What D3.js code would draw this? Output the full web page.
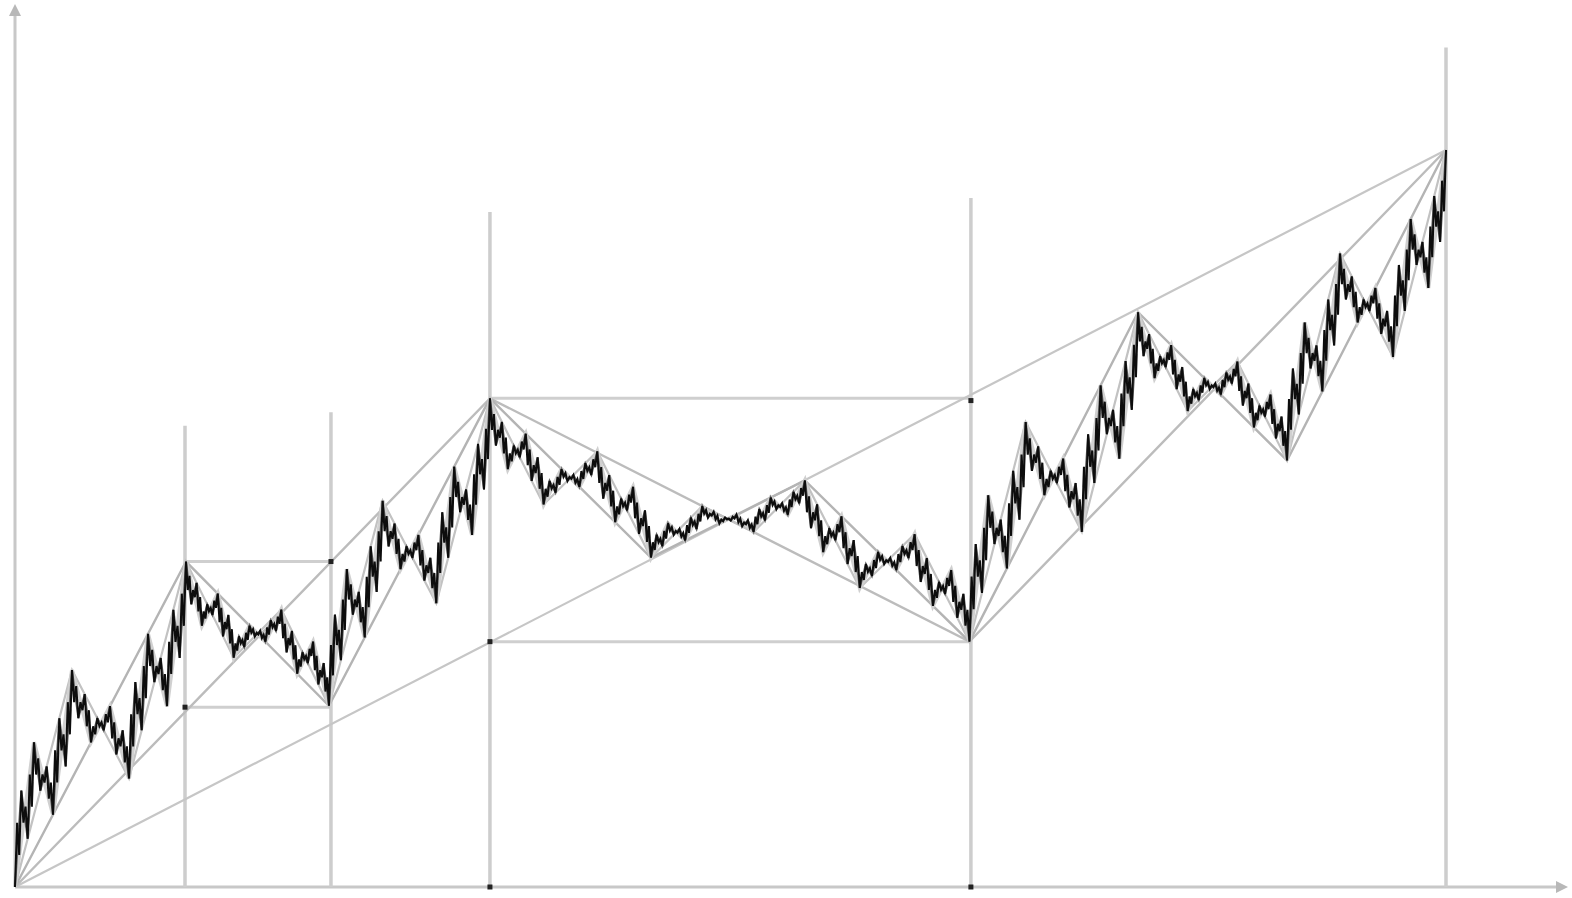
<!DOCTYPE html>
<html>
<head>
<meta charset="utf-8">
<script src="https://cdn.jsdelivr.net/npm/d3@7"></script>
<style>
  html, body { margin: 0; padding: 0; background: #ffffff; }
  svg { display: block; }
</style>
</head>
<body>
<svg id="chart" width="1572" height="898"></svg>
<script>
// ---- data (unit square: time 0..1, price 0..1) ----
// generator of the cartoon (each segment is replaced by 3 pieces)
const genX = [0, 1/3, 2/3, 1];
const genY = [0, 2/3, 1/3, 1];
// level 0: the trend line
const level0X = [0, 1];
const level0Y = [0, 1];
// level 1 breakpoints
const level1X = [0, 0.3319, 0.6670, 1];
const level1Y = [0, 0.6630, 0.3329, 1];
// level 2 breakpoints
const level2X = [0, 0.1195, 0.2194, 0.3319, 0.4444, 0.5520, 0.6670, 0.7848, 0.8889, 1];
const level2Y = [0, 0.4416, 0.2459, 0.6630, 0.4470, 0.5516, 0.3329, 0.7799, 0.5788, 1];
// vertical guide lines (position, top end)
const vertX   = [0.1188, 0.2208, 0.3319, 0.6680, 1];
const vertTop = [0.626, 0.644, 0.916, 0.935, 1.139];
// horizontal guide lines (box edges)
const horY  = [0.6630, 0.3329, 0.4416, 0.2440];
const horX0 = [0.3319, 0.3319, 0.1188, 0.1188];
const horX1 = [0.6680, 0.6680, 0.2208, 0.2208];
// marked points
const dotX = [0.1188, 0.2208, 0.3319, 0.6680, 0.3319, 0.6680];
const dotY = [0.2440, 0.4416, 0.3329, 0.6600, 0.0, 0.0];

// ---- scales ----
const x = d3.scaleLinear().domain([0, 1]).range([15, 1446]);
const y = d3.scaleLinear().domain([0, 1]).range([887, 150]);

const svg = d3.select("#chart");

function zipPts(xs, ys) { return xs.map((v, i) => [v, ys[i]]); }
function refine(pts) {
  const out = [pts[0]];
  for (let i = 0; i < pts.length - 1; i++) {
    const [x0, y0] = pts[i], [x1, y1] = pts[i + 1];
    for (let k = 1; k < genX.length; k++) {
      out.push([x0 + genX[k] * (x1 - x0), y0 + genY[k] * (y1 - y0)]);
    }
  }
  return out;
}
const L0 = zipPts(level0X, level0Y);
const L1 = zipPts(level1X, level1Y);
const L2 = zipPts(level2X, level2Y);
const L3 = refine(L2);
const L4 = refine(L3);
const L5 = refine(L4);
const L6 = refine(L5);

const line = d3.line().x(d => x(d[0])).y(d => y(d[1]));

const defs = svg.append("defs");
defs.append("filter").attr("id", "soft")
  .append("feGaussianBlur").attr("stdDeviation", 0.55);
defs.append("marker").attr("id", "arrow")
  .attr("viewBox", "0 0 10 10").attr("refX", 5).attr("refY", 5)
  .attr("markerWidth", 4).attr("markerHeight", 4).attr("orient", "auto")
  .append("path").attr("d", "M0,0 L10,5 L0,10 z").attr("fill", "#b8b8b8");

const g = svg.append("g").attr("filter", "url(#soft)");

// axes
g.append("line").attr("x1", x(0)).attr("y1", y(0)).attr("x2", 1562).attr("y2", y(0))
  .attr("stroke", "#c8c8c8").attr("stroke-width", 3).attr("marker-end", "url(#arrow)");
g.append("line").attr("x1", x(0)).attr("y1", y(0)).attr("x2", x(0)).attr("y2", 10)
  .attr("stroke", "#c8c8c8").attr("stroke-width", 3).attr("marker-end", "url(#arrow)");

// vertical guides
g.selectAll(".vert").data(vertX).join("line").attr("class", "vert")
  .attr("x1", d => x(d)).attr("x2", d => x(d))
  .attr("y1", y(0)).attr("y2", (d, i) => y(vertTop[i]))
  .attr("stroke", "#cdcdcd").attr("stroke-width", 3.5);

// horizontal guides
g.selectAll(".hor").data(horY).join("line").attr("class", "hor")
  .attr("x1", (d, i) => x(horX0[i])).attr("x2", (d, i) => x(horX1[i]))
  .attr("y1", d => y(d)).attr("y2", d => y(d))
  .attr("stroke", "#cfcfcf").attr("stroke-width", 3);

// construction levels
g.append("path").attr("d", line(L0)).attr("fill", "none").attr("stroke", "#c6c6c6").attr("stroke-width", 2.2);
g.append("path").attr("d", line(L1)).attr("fill", "none").attr("stroke", "#bcbcbc").attr("stroke-width", 2.4);
g.append("path").attr("d", line(L2)).attr("fill", "none").attr("stroke", "#b4b4b4").attr("stroke-width", 2.4);
g.append("path").attr("d", line(L3)).attr("fill", "none").attr("stroke", "#c2c2c2").attr("stroke-width", 2.2);
g.append("path").attr("d", line(L4)).attr("fill", "none").attr("stroke", "#d0d0d0").attr("stroke-width", 4);
g.append("path").attr("d", line(L5)).attr("fill", "none").attr("stroke", "#666").attr("stroke-width", 2);
g.append("path").attr("d", line(L6)).attr("fill", "none").attr("stroke", "#0a0a0a").attr("stroke-width", 2)
  .attr("stroke-linejoin", "miter");

// dots
g.selectAll(".dot").data(dotX).join("rect").attr("class", "dot")
  .attr("x", d => x(d) - 2.5).attr("y", (d, i) => y(dotY[i]) - 2.5)
  .attr("width", 5).attr("height", 5).attr("fill", "#222");
</script>
</body>
</html>
